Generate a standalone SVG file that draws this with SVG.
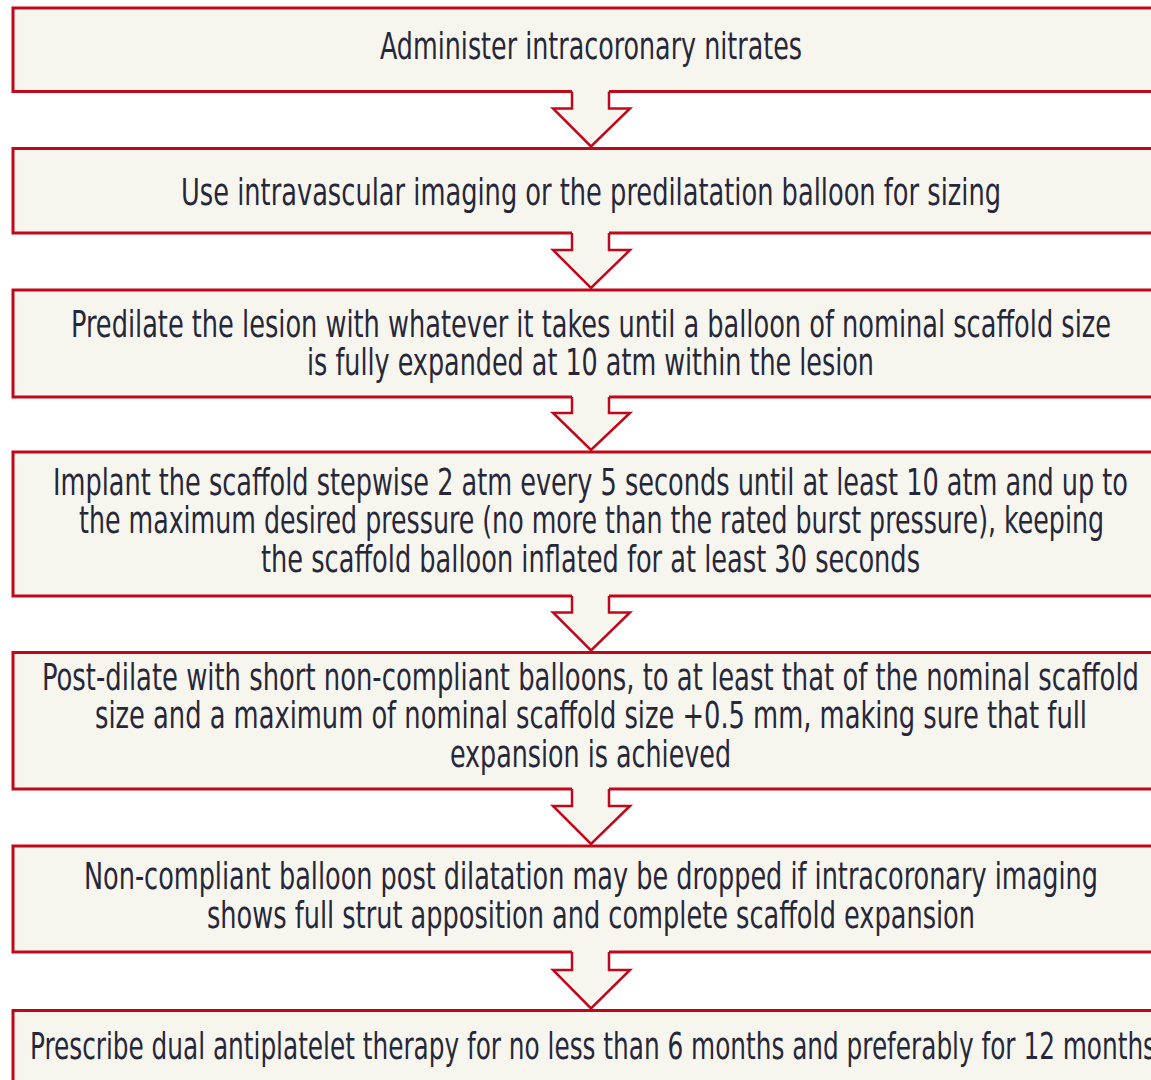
<svg xmlns="http://www.w3.org/2000/svg" width="1151" height="1080" viewBox="0 0 1151 1080">
<style>
.box{fill:#f7f6ee;stroke:#c0081c;stroke-width:3}
.af{fill:#f7f6ee;stroke:none}
.as{fill:none;stroke:#c0081c;stroke-width:2.5;stroke-linejoin:miter}
text{font-family:"DejaVu Sans Condensed","Liberation Sans Narrow","DejaVu Sans",sans-serif;font-stretch:condensed;font-size:38px;fill:#27273a}
</style>
<rect width="1151" height="1080" fill="#ffffff"/>
<g id="node1"><rect class="box" x="13" y="8" width="1160" height="83.5"/>
<text x="380" y="59" textLength="422" lengthAdjust="spacingAndGlyphs">Administer intracoronary nitrates</text></g>
<g id="node2"><rect class="box" x="13" y="148.5" width="1160" height="84.5"/>
<text x="181" y="205" textLength="820" lengthAdjust="spacingAndGlyphs">Use intravascular imaging or the predilatation balloon for sizing</text></g>
<g id="node3"><rect class="box" x="13" y="290" width="1160" height="107"/>
<text x="71" y="337" textLength="1040" lengthAdjust="spacingAndGlyphs">Predilate the lesion with whatever it takes until a balloon of nominal scaffold size</text>
<text x="307" y="375" textLength="567" lengthAdjust="spacingAndGlyphs">is fully expanded at 10 atm within the lesion</text></g>
<g id="node4"><rect class="box" x="13" y="452" width="1160" height="144"/>
<text x="53" y="495" textLength="1075" lengthAdjust="spacingAndGlyphs">Implant the scaffold stepwise 2 atm every 5 seconds until at least 10 atm and up to</text>
<text x="79" y="533" textLength="1025" lengthAdjust="spacingAndGlyphs">the maximum desired pressure (no more than the rated burst pressure), keeping</text>
<text x="261" y="572" textLength="659" lengthAdjust="spacingAndGlyphs">the scaffold balloon inflated for at least 30 seconds</text></g>
<g id="node5"><rect class="box" x="13" y="652.5" width="1160" height="136.5"/>
<text x="42" y="690" textLength="1097" lengthAdjust="spacingAndGlyphs">Post-dilate with short non-compliant balloons, to at least that of the nominal scaffold</text>
<text x="95" y="728" textLength="992" lengthAdjust="spacingAndGlyphs">size and a maximum of nominal scaffold size +0.5 mm, making sure that full</text>
<text x="450" y="767" textLength="281" lengthAdjust="spacingAndGlyphs">expansion is achieved</text></g>
<g id="node6"><rect class="box" x="13" y="846" width="1160" height="106"/>
<text x="84" y="889" textLength="1014" lengthAdjust="spacingAndGlyphs">Non-compliant balloon post dilatation may be dropped if intracoronary imaging</text>
<text x="207" y="928" textLength="768" lengthAdjust="spacingAndGlyphs">shows full strut apposition and complete scaffold expansion</text></g>
<g id="node7"><rect class="box" x="13" y="1010.5" width="1160" height="100"/>
<text x="30" y="1059" textLength="1126" lengthAdjust="spacingAndGlyphs">Prescribe dual antiplatelet therapy for no less than 6 months and preferably for 12 months</text></g>
<g id="connectors">
<g><path class="af" d="M572,89 L572,108.5 L553,108.5 L591,146.5 L630,108.5 L609,108.5 L609,89 Z"/><path class="as" d="M572,91.5 L572,108.5 L553,108.5 L591,146.5 L630,108.5 L609,108.5 L609,91.5"/></g>
<g><path class="af" d="M572,231 L572,250 L553,250 L591,288 L630,250 L609,250 L609,231 Z"/><path class="as" d="M572,233 L572,250 L553,250 L591,288 L630,250 L609,250 L609,233"/></g>
<g><path class="af" d="M572,395 L572,413 L553,413 L591,450 L630,413 L609,413 L609,395 Z"/><path class="as" d="M572,397 L572,413 L553,413 L591,450 L630,413 L609,413 L609,397"/></g>
<g><path class="af" d="M572,594 L572,612.5 L553,612.5 L591,650.5 L630,612.5 L609,612.5 L609,594 Z"/><path class="as" d="M572,596 L572,612.5 L553,612.5 L591,650.5 L630,612.5 L609,612.5 L609,596"/></g>
<g><path class="af" d="M572,787 L572,806 L553,806 L591,844 L630,806 L609,806 L609,787 Z"/><path class="as" d="M572,789 L572,806 L553,806 L591,844 L630,806 L609,806 L609,789"/></g>
<g><path class="af" d="M572,950 L572,970 L553,970 L591,1008.5 L630,970 L609,970 L609,950 Z"/><path class="as" d="M572,952 L572,970 L553,970 L591,1008.5 L630,970 L609,970 L609,952"/></g>
</g>
</svg>
